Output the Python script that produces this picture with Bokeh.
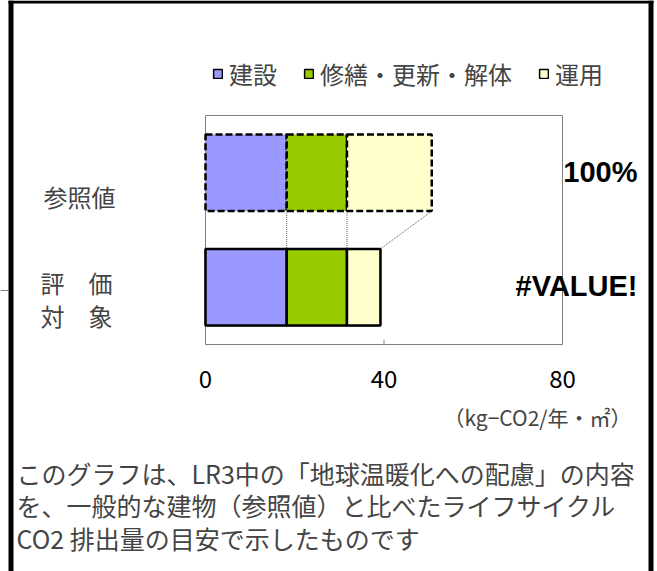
from bokeh.plotting import figure
from bokeh.models import (ColumnDataSource, Range1d, Label, BoxAnnotation,
                          Legend, LegendItem)
from bokeh.core.properties import value
from bokeh.embed import file_html
from bokeh.resources import INLINE

# ---------------- data ----------------
categories = ["参照値", "評価対象"]
category_pos = [1.5, 0.5]
construction = [18.2, 18.2]      # 建設
renovation = [13.5, 13.5]        # 修繕・更新・解体
operation = [19.0, 7.5]          # 運用
ratio_labels = ["100%", "#VALUE!"]
series_names = ["建設", "修繕・更新・解体", "運用"]
series_colors = ["#9999FF", "#99CC00", "#FFFFCC"]
x_ticks = [0, 40, 80]
tick_labels = ["0", "40", "80"]
unit_label = "（kg−CO2/年・㎡）"
note_lines = [
    "このグラフは、LR3中の「地球温暖化への配慮」の内容",
    "を、一般的な建物（参照値）と比べたライフサイクル",
    "CO2 排出量の目安で示したものです",
]

# ---------------- layout ----------------
W, H = 657, 571
FL, FR, FT, FB = 205, 562, 115, 344        # plot area in page pixels
JP = "Noto Sans CJK JP"
BAR_H = 0.67
X0, X1 = x_ticks[0], x_ticks[-1]
NCAT = len(categories)
kx = (FR - FL) / (X1 - X0)
ky = (FB - FT) / NCAT


def sx(cx):
    return cx


def sy(cy):
    return H - cy


p = figure(width=W, height=H,
           x_range=Range1d(X0 - FL / kx, X0 + (W - FL) / kx),
           y_range=Range1d(-(H - FB) / ky, NCAT + FT / ky),
           output_backend="svg", toolbar_location=None,
           min_border=0, min_border_left=0, min_border_right=0,
           min_border_top=0, min_border_bottom=0)
p.background_fill_color = "white"
p.border_fill_color = "white"
p.outline_line_color = None
p.xgrid.visible = False
p.ygrid.visible = False
p.axis.visible = False

# plot-area box (axis frame)
p.quad(left=[X0], right=[X1], bottom=[0], top=[NCAT], fill_alpha=0,
       line_color="#808080", line_width=1)
# x ticks (inward) and tick labels
p.segment(x0=x_ticks, y0=[0] * len(x_ticks), x1=x_ticks, y1=[5 / ky] * len(x_ticks),
          line_color="#808080", line_width=1)
p.text(x=x_ticks, y=[0] * len(x_ticks), text=tick_labels, text_align="center",
       text_baseline="top", y_offset=25, text_font=value(JP), text_font_size="24px",
       text_color="black")

keys = ["c1", "c2", "c3"]
ref_src = ColumnDataSource(dict(y=[category_pos[0]], c1=[construction[0]],
                                c2=[renovation[0]], c3=[operation[0]]))
eval_src = ColumnDataSource(dict(y=[category_pos[1]], c1=[construction[1]],
                                 c2=[renovation[1]], c3=[operation[1]]))

# series lines (connectors between the two stacks)
ref_cum = [construction[0], construction[0] + renovation[0],
           construction[0] + renovation[0] + operation[0]]
eval_cum = [construction[1], construction[1] + renovation[1],
            construction[1] + renovation[1] + operation[1]]
p.segment(x0=ref_cum, y0=[category_pos[0] - BAR_H / 2] * 3,
          x1=eval_cum, y1=[category_pos[1] + BAR_H / 2] * 3,
          line_color="#555555", line_width=1, line_dash="1 1")

r_ref = p.hbar_stack(keys, y="y", height=BAR_H, source=ref_src,
                     fill_color=series_colors, line_color="black",
                     line_width=2.5, line_dash="7 3")

# thin-bordered copy used only for the legend swatches (hidden under the real bars)
r_leg = p.hbar_stack(keys, y="y", height=BAR_H, source=eval_src,
                     fill_color=series_colors, line_color="black", line_width=1.5)

r_eval = p.hbar_stack(keys, y="y", height=BAR_H, source=eval_src,
                      fill_color=series_colors, line_color="black",
                      line_width=2.5)

legend = Legend(items=[LegendItem(label=n, renderers=[r]) for n, r in zip(series_names, r_leg)],
                orientation="horizontal", location=(212, sy(91)),
                glyph_width=11, glyph_height=11, label_standoff=6, spacing=26,
                padding=0, margin=0, border_line_alpha=0, background_fill_alpha=0,
                label_text_font=JP, label_text_font_size="24px")
p.add_layout(legend)

# category labels
p.add_layout(Label(x=sx(43), y=sy(196), x_units="screen", y_units="screen",
                   text=categories[0], text_font=JP, text_font_size="24px",
                   text_baseline="middle", text_align="left"))
p.add_layout(Label(x=sx(40), y=sy(282), x_units="screen", y_units="screen",
                   text="評　価", text_font=JP, text_font_size="24px",
                   text_baseline="middle", text_align="left"))
p.add_layout(Label(x=sx(40), y=sy(315), x_units="screen", y_units="screen",
                   text="対　象", text_font=JP, text_font_size="24px",
                   text_baseline="middle", text_align="left"))

# ratio labels
for lab, yv in zip(ratio_labels, category_pos):
    p.add_layout(Label(x=sx(637), y=yv, x_units="screen", y_units="data",
                       text=lab, text_font="Liberation Sans", text_font_style="bold",
                       text_font_size="29px", text_align="right", text_baseline="middle",
                       text_color="black", y_offset=1))

# unit label
p.add_layout(Label(x=sx(443), y=sy(416), x_units="screen", y_units="screen",
                   text=unit_label, text_font=JP, text_font_size="21px",
                   text_baseline="middle", text_align="left"))

# description
for i, line in enumerate(note_lines):
    p.add_layout(Label(x=sx(16), y=sy(472 + 32.5 * i), x_units="screen", y_units="screen",
                       text=line, text_font=JP, text_font_size="25px",
                       text_baseline="middle", text_align="left"))


# frame border of the sheet
def box(l, r, t, b, color="black"):
    p.add_layout(BoxAnnotation(left=sx(l), right=sx(r), top=sy(t), bottom=sy(b),
                               left_units="screen", right_units="screen",
                               top_units="screen", bottom_units="screen",
                               fill_color=color, fill_alpha=1, line_alpha=0,
                               level="overlay"))


box(8, 13, 0, 571)
box(648, 653, 0, 571)
box(8, 653, 0, 3)
box(0, 8, 289.5, 290.5, "#808080")

open("out.html", "w").write(file_html(p, INLINE))
